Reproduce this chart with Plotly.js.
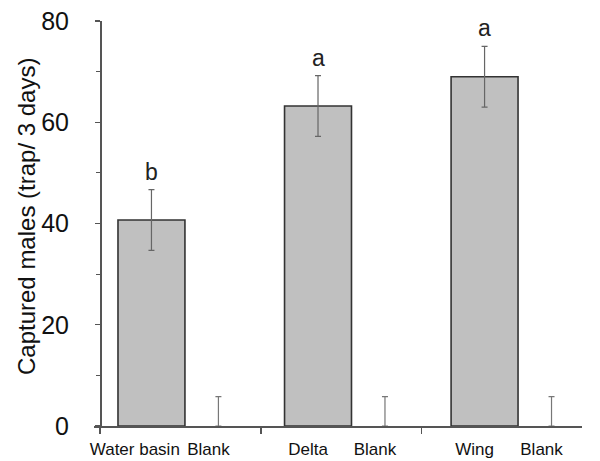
<!DOCTYPE html>
<html>
<head>
<meta charset="utf-8">
<script src="https://cdn.plot.ly/plotly-3.0.1.min.js"></script>
<style>html,body{margin:0;padding:0;background:#fff;}#chart{width:600px;height:461px;}</style>
</head>
<body>
<div id="chart"></div>
<script>
// Data
var categories = ["Water basin", "Blank", "Delta", "Blank", "Wing", "Blank"];
var means = [40.7, 0, 63.2, 0, 69.0, 0];
var errors = [6.0, 5.8, 6.0, 5.8, 6.0, 5.8];
var letters = ["b", "", "a", "", "a", ""];
var yTicks = [0, 20, 40, 60, 80];
var yTitle = "Captured males (trap/ 3 days)";

// Layout helpers (positions computed, not data)
function markPos(i) { return Math.floor(i / 2) + (i % 2) * 0.402; }
var xs = categories.map(function (c, i) { return markPos(i); });
var labelPos = xs.map(function (x, i) { return x - (i === 0 ? 0.1 : 0.06); });
var groupTicks = [0, 1, 2, 3].map(function (g) { return -0.309 + g * 0.966; });

var trapIdx = [0, 2, 4], blankIdx = [1, 3, 5];
var pick = function (arr, idx) { return idx.map(function (i) { return arr[i]; }); };

var fontFam = "Liberation Sans, Arial, sans-serif";

var traps = {
  type: "bar",
  x: pick(xs, trapIdx),
  y: pick(means, trapIdx),
  width: 0.402,
  marker: { color: "#c0c0c0", line: { color: "#333333", width: 1.6 } },
  error_y: { type: "data", array: pick(errors, trapIdx), symmetric: true, color: "#666666", thickness: 1.2, width: 3 },
  hoverinfo: "skip",
  showlegend: false
};
var blanks = {
  type: "scatter",
  mode: "markers",
  x: pick(xs, blankIdx),
  y: pick(means, blankIdx),
  marker: { size: 1, opacity: 0 },
  error_y: { type: "data", array: pick(errors, blankIdx), arrayminus: blankIdx.map(function () { return 0; }), symmetric: false, color: "#777777", thickness: 1.2, width: 3 },
  cliponaxis: false,
  hoverinfo: "skip",
  showlegend: false
};
var tickTrace = { type: "scatter", x: [groupTicks[0]], y: [0], xaxis: "x2", mode: "markers", marker: { opacity: 0, size: 1 }, hoverinfo: "skip", showlegend: false };

var xr = [-0.345, 2.585];
var annotations = [];
letters.forEach(function (l, i) {
  if (!l) return;
  annotations.push({ x: xs[i], y: means[i] + errors[i], xref: "x", yref: "y", text: l, showarrow: false,
    yanchor: "bottom", yshift: 3, font: { family: fontFam, size: 23, color: "#222" } });
});
annotations.push({ xref: "paper", yref: "paper", x: 0, y: 0.516, xanchor: "center", yanchor: "middle", xshift: -68,
  text: yTitle, textangle: -90, showarrow: false, font: { family: fontFam, size: 24, color: "#111" } });

var layout = {
  width: 600, height: 461,
  margin: { l: 94, r: 18, t: 21, b: 35 },
  paper_bgcolor: "#fff", plot_bgcolor: "#fff",
  bargap: 0,
  xaxis: {
    range: xr, tickvals: labelPos, ticktext: categories, ticks: "", showgrid: false, zeroline: false,
    showline: true, linecolor: "#555", linewidth: 1.5, tickfont: { family: fontFam, size: 17, color: "#111" },
    ticklabelstandoff: 7, fixedrange: true
  },
  xaxis2: {
    overlaying: "x", anchor: "y", side: "bottom", range: xr, tickvals: groupTicks, ticks: "outside", ticklen: 7,
    tickwidth: 1.3, tickcolor: "#555", showticklabels: false, showgrid: false, zeroline: false, showline: false
  },
  yaxis: {
    range: [0, 80], tickvals: yTicks, ticks: "outside", ticklen: 5, tickwidth: 1.3, tickcolor: "#555",
    anchor: "free", position: 6 / 488,
    minor: { dtick: 10, tick0: 0, ticks: "outside", ticklen: 4, tickwidth: 1.2, tickcolor: "#555", showgrid: false },
    showgrid: false, zeroline: false, showline: true, linecolor: "#555", linewidth: 1.5,
    tickfont: { family: fontFam, size: 25, color: "#111" }, ticklabelstandoff: 21
  },
  annotations: annotations
};

Plotly.newPlot("chart", [traps, blanks, tickTrace], layout, { staticPlot: true, displayModeBar: false });
</script>
</body>
</html>
